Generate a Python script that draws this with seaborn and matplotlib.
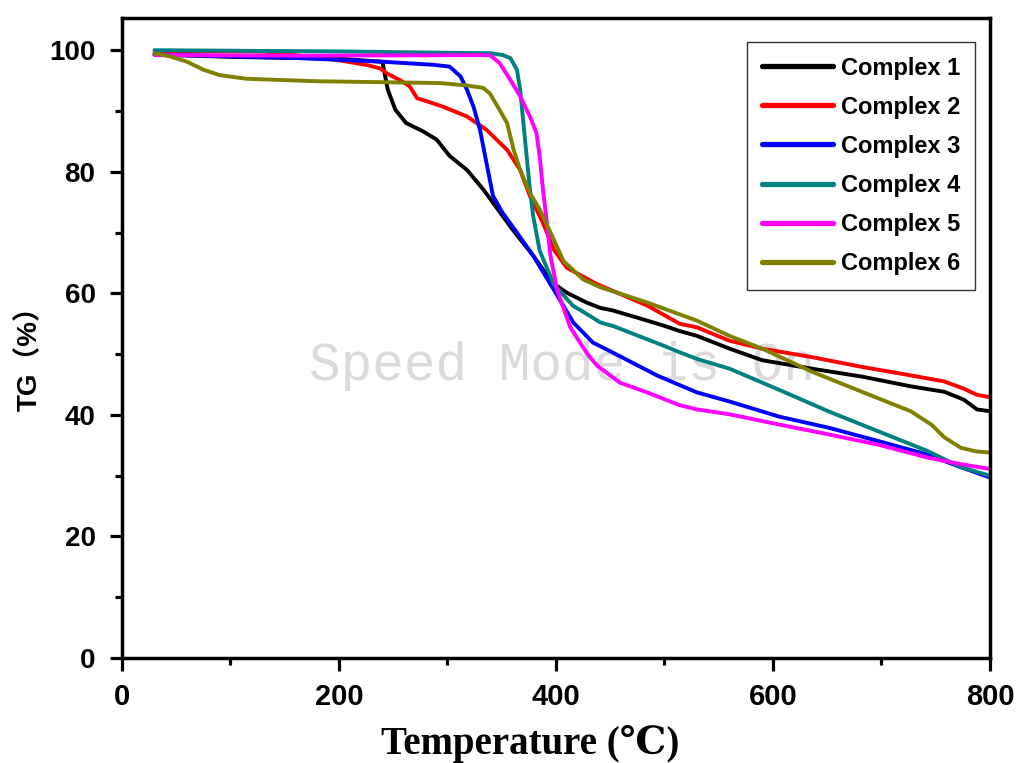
import matplotlib
matplotlib.use("Agg")
import matplotlib.pyplot as plt
from matplotlib.ticker import MultipleLocator
import seaborn as sns
import pandas as pd

# ---- data ----
names = ["Complex 1", "Complex 2", "Complex 3", "Complex 4", "Complex 5", "Complex 6"]
colors = ["#000000", "#ff0000", "#0000ff", "#008080", "#ff00ff", "#808000"]

t1 = [30, 100, 200, 240, 245, 252, 262, 277, 290, 302, 318, 333, 342, 360, 379, 397, 410, 428, 441, 452,
      475, 499, 514, 530, 560, 590, 636, 682, 727, 758, 776, 788, 800]
g1 = [99.3, 98.9, 98.6, 98.1, 93.5, 90.2, 88.0, 86.7, 85.3, 82.6, 80.3, 77.1, 74.9, 70.5, 66.2, 61.7, 60.1,
      58.5, 57.6, 57.2, 56.0, 54.7, 53.8, 53.0, 50.9, 49.0, 47.6, 46.3, 44.7, 43.8, 42.5, 40.9, 40.6]

t2 = [30, 130, 198, 225, 238, 244, 256, 265, 272, 281, 296, 318, 336, 355, 367, 376, 388, 398, 410, 438,
      484, 514, 530, 560, 590, 636, 682, 727, 758, 776, 788, 800]
g2 = [99.8, 99.8, 98.4, 97.6, 97.0, 96.2, 95.1, 94.1, 92.1, 91.6, 90.7, 89.1, 86.9, 83.6, 80.3, 76.0, 71.6,
      67.2, 64.2, 61.5, 58.0, 55.0, 54.4, 52.2, 50.9, 49.5, 47.9, 46.5, 45.5, 44.3, 43.3, 42.9]

t3 = [30, 164, 241, 287, 302, 312, 318, 324, 330, 336, 342, 351, 364, 379, 398, 416, 434, 453, 493, 514,
      530, 560, 606, 651, 697, 742, 773, 800]
g3 = [99.3, 98.7, 98.1, 97.6, 97.3, 95.7, 93.5, 90.7, 86.9, 81.4, 76.0, 73.2, 70.0, 66.2, 60.6, 55.2, 51.9,
      50.2, 46.5, 44.9, 43.7, 42.2, 39.7, 37.9, 35.7, 33.5, 31.4, 29.7]

t4 = [30, 200, 340, 351, 358, 364, 367, 370, 373, 376, 379, 385, 398, 416, 422, 441, 453, 499, 514, 530,
      560, 606, 651, 697, 742, 773, 800]
g4 = [100.0, 99.8, 99.5, 99.2, 98.7, 96.8, 93.5, 88.0, 82.5, 77.1, 72.7, 67.0, 61.5, 57.9, 57.3, 55.2, 54.6,
      51.4, 50.3, 49.2, 47.6, 44.1, 40.6, 37.3, 34.1, 31.4, 30.0]

t5 = [30, 164, 339, 348, 358, 367, 376, 382, 385, 388, 391, 395, 401, 407, 413, 422, 430, 438, 459, 484,
      514, 530, 560, 606, 651, 697, 742, 773, 800]
g5 = [99.2, 99.1, 99.2, 97.9, 95.1, 92.4, 89.1, 86.4, 82.5, 77.1, 72.5, 66.1, 60.6, 57.5, 54.5, 51.9, 49.8,
      48.1, 45.3, 43.7, 41.6, 40.9, 40.1, 38.4, 36.8, 35.1, 33.0, 31.9, 31.1]

t6 = [30, 44, 60, 75, 90, 115, 179, 293, 318, 333, 339, 348, 355, 361, 367, 376, 385, 395, 407, 425, 441,
      484, 530, 560, 590, 636, 682, 727, 746, 758, 773, 787, 800]
g6 = [99.5, 99.0, 98.1, 96.8, 95.9, 95.3, 94.9, 94.6, 94.2, 93.8, 92.9, 90.2, 88.0, 83.6, 80.3, 76.5, 73.8,
      70.0, 65.3, 62.3, 61.0, 58.5, 55.5, 53.0, 50.9, 47.1, 43.8, 40.6, 38.4, 36.3, 34.6, 34.0, 33.8]

x_ticks = [0, 200, 400, 600, 800]
y_ticks = [0, 20, 40, 60, 80, 100]

series_t = [t1, t2, t3, t4, t5, t6]
series_g = [g1, g2, g3, g4, g5, g6]
frames = []
for n, t, g in zip(names, series_t, series_g):
    frames.append(pd.DataFrame({"T": t, "TG": g, "Complex": n}))
df = pd.concat(frames, ignore_index=True)

# ---- plot ----
sns.set_style("ticks")
plt.rcParams["font.family"] = ["Liberation Sans", "DejaVu Sans"]
plt.rcParams["text.color"] = "black"
plt.rcParams["axes.labelcolor"] = "black"
plt.rcParams["xtick.color"] = "black"
plt.rcParams["ytick.color"] = "black"

fig = plt.figure(figsize=(10.19, 7.63), dpi=100)
ax = fig.add_axes([0.1197, 0.1376, 0.8518, 0.8388])

fig.text(562 / 1019, 1 - 366 / 763, "Speed Mode is On", fontsize=38, color="#dadada",
         family=["Liberation Mono", "DejaVu Sans Mono"], ha="center", va="center", zorder=0.5)
ax.set_zorder(1)
ax.patch.set_alpha(0)

sns.lineplot(data=df, x="T", y="TG", hue="Complex", palette=dict(zip(names, colors)),
             sort=False, estimator=None, linewidth=2.8, ax=ax, zorder=2)

ax.set_xlim(0, 800)
ax.set_ylim(0, 105.3)
ax.set_xticks(x_ticks)
ax.set_yticks(y_ticks)
ax.xaxis.set_minor_locator(MultipleLocator(100))
ax.yaxis.set_minor_locator(MultipleLocator(10))

for s in ax.spines.values():
    s.set_linewidth(2.5)
    s.set_color("black")
ax.tick_params(which="major", length=9, width=2.3, direction="out", color="black")
ax.tick_params(which="minor", length=5, width=2.3, direction="out", color="black")
ax.tick_params(axis="x", which="major", pad=9)
ax.tick_params(axis="y", which="major", pad=10)

for lab in ax.get_xticklabels():
    lab.set_fontsize(21)
    lab.set_fontweight("bold")
for lab in ax.get_yticklabels():
    lab.set_fontsize(20)
    lab.set_fontweight("bold")

ax.set_xlabel("Temperature (℃)", fontsize=28, fontweight="bold",
              family=["Liberation Serif", "DejaVu Serif"])
ax.xaxis.set_label_coords(0.47, -0.105)
ax.set_ylabel("TG（%）", fontsize=20, fontweight="bold",
              family=["Liberation Sans", "Noto Sans CJK SC"])
ax.yaxis.set_label_coords(-0.091, 0.478)

leg = ax.legend(loc="upper right", bbox_to_anchor=(0.983, 0.9625), borderaxespad=0,
                frameon=True, fancybox=False, edgecolor="black",
                prop={"weight": "bold", "size": 17}, handlelength=3.0, handletextpad=0.35,
                labelspacing=0.68, borderpad=0.62)
leg.get_frame().set_linewidth(1.0)
for h in leg.get_lines():
    h.set_linewidth(3.8)

fig.savefig("out.png", dpi=100)
